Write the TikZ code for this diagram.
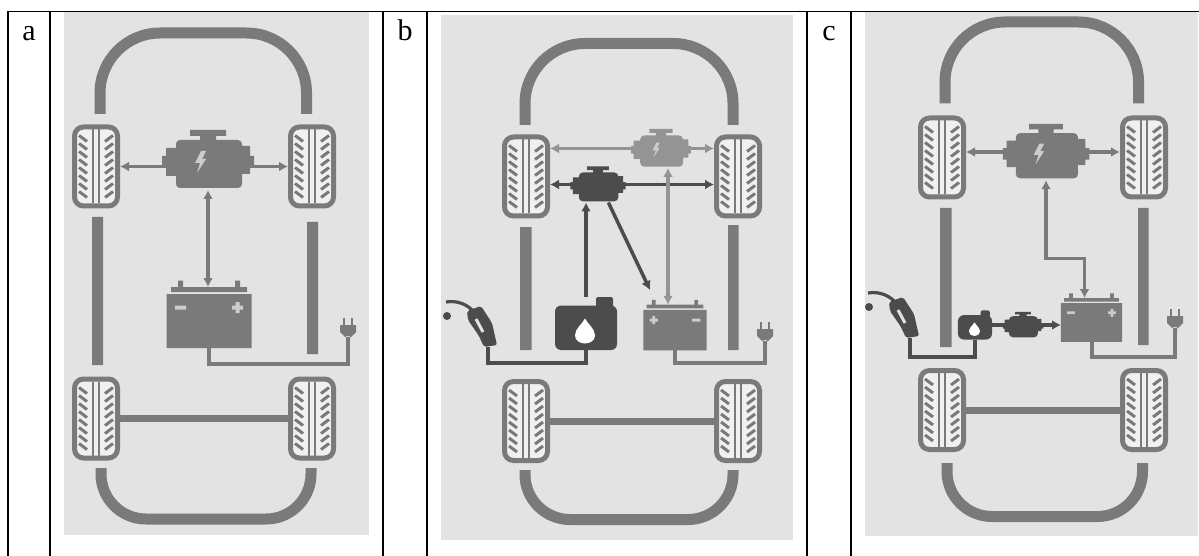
\documentclass[tikz,border=0pt]{standalone}
\usepackage{fontspec}
\setmainfont{Liberation Serif}
\usetikzlibrary{arrows.meta}

\definecolor{panelbg}{gray}{0.89}
\definecolor{tyrein}{gray}{0.94}
\definecolor{partgray}{gray}{0.48}
\definecolor{partlight}{gray}{0.58}
\definecolor{partdark}{gray}{0.30}
\definecolor{signgray}{gray}{0.80}

\tikzset{
  rule/.style={line width=1.1pt, black},
  panel/.style={fill=panelbg},
  hull/.style={line width=11pt, partgray},
  axle/.style={line width=7pt, partgray},
  flow/.style={line width=3.5pt, partgray},
  wire/.style={line width=4pt, partgray},
  hose/.style={line width=4pt, partdark},
  tag/.style={anchor=base, font=\fontsize{30}{36}\selectfont},
  spot/.style 2 args={inner sep=0pt, outer sep=0pt, minimum width=#1, minimum height=#2},
  tyre/.pic={
    \draw[line width=5pt, partgray, fill=tyrein, rounded corners=9pt] (-21.5,-39.5) rectangle (21.5,39.5);
    \foreach \s in {-1,1} {
      \draw[line width=2.8pt, partgray] (3*\s,-37) -- (3*\s,37);
      \foreach \ty in {-28,-20,...,28}
        \draw[line width=3pt, partgray] (17*\s,\ty-3) -- (9*\s,\ty+3);
    }
  },
  engine/.pic={
    \fill[#1] (-18,-30) rectangle (18,-24) (-8,-25) rectangle (8,-19)
      (-42,-12) rectangle (-31,16) (-46,-4) rectangle (-41,8)
      (33,-14) rectangle (42,14) (41,-4) rectangle (46,8);
    \fill[#1, rounded corners=4pt] (-32,-20) rectangle (34,28);
  },
  bolt/.pic={
    \fill[#1] (-7,-9) -- (-2,-9) -- (-6,-1) -- (-2,-1) -- (-11,13) -- (-8,3) -- (-13,3) -- cycle;
  },
  battery/.pic={
    \fill[#1] (-38,-30.5) rectangle (38,-25.5) (-31,-37) rectangle (-26,-30)
      (26,-37) rectangle (31,-30) (-42.5,-23.5) rectangle (42.5,30.5);
    \fill[signgray] (-34,-12) rectangle (-23,-8) (23,-12) rectangle (34,-8)
      (26.5,-15.5) rectangle (30.5,-4.5);
  },
  tank/.pic={
    \fill[#1, rounded corners=6pt] (-31,-18) rectangle (31,26.5);
    \fill[#1, rounded corners=2pt] (10,-26.5) rectangle (27,-14);
    \fill[white] (-1,-5) .. controls (2,1) and (9,5) .. (9,12)
      .. controls (9,17) and (4,20) .. (-1,20) .. controls (-6,20) and (-11,17) .. (-11,12)
      .. controls (-11,5) and (-4,1) .. cycle;
  },
  nozzle/.pic={
    \draw[#1, line width=3.2pt] (-42,-45) .. controls (-30,-47) and (-20,-42) .. (-14,-35);
    \fill[#1, rounded corners=2pt] (-21,-36) -- (-7,-41) -- (4,-24) -- (9,-2) -- (-4,0) -- (-9,-11) -- (-20,-27) -- cycle;
    \draw[panelbg, line width=3pt] (-12,-28) -- (-5,-15);
    \fill[#1] (-41,-31) circle[radius=4];
  },
  plug/.pic={
    \draw[#1, line width=2.5pt] (-4,-23) -- (-4,-15) (4,-23) -- (4,-15);
    \fill[#1] (-8,-16) -- (8,-16) -- (8,-9) -- (3,-4) -- (-3,-4) -- (-8,-9) -- cycle (-2,-5) rectangle (2,0);
  }
}

\begin{document}
\begin{tikzpicture}[x=1pt, y=-1pt, >={Latex[length=9pt,width=10pt]}]
\useasboundingbox (0,0) rectangle (1199,556);
\fill[panel] (64,12) rectangle (369,535);
\fill[panel] (441,15) rectangle (793,540);
\fill[panel] (865,12) rectangle (1198,536);
\draw[rule] (8,556) -- (8,11.5) -- (1199,11.5);
\foreach \x in {50,383,427,807,851}
  \draw[rule] (\x,11.5) -- (\x,556);
\node[tag] (labA) at (29,41) {a};
\node[tag] (labB) at (405,41) {b};
\node[tag] (labC) at (829,41) {c};

\draw[hull, rounded corners=60pt] (100,114) -- (100,33) -- (306.5,33) -- (306.5,114);
\draw[hull, rounded corners=45pt] (101,468) -- (101,519) -- (311,519) -- (311,468);
\fill[partgray] (92,217) rectangle (103,365) (307,222) rectangle (318,354);
\foreach \n/\x/\y in {aTL/96/166.5, aTR/312/166.5, aBL/96/418.5, aBR/312/418.5}
  \node[spot={48pt}{84pt}] (\n) at (\x,\y) {};
\node[spot={92pt}{60pt}] (aEng) at (208,160) {};
\node[spot={85pt}{61pt}] (aBat) at (209,317.5) {};
\coordinate (aPlug) at (348,341);
\draw[axle] (aBL) -- (aBR);
\draw[flow, <->] (aTL) -- (aTR);
\draw[flow, <->] (aEng.south) -- (aEng.south |- aBat.north);
\draw[wire] (aBat.south) -- ++(0,16) -| (aPlug);
\foreach \n in {aTL,aTR,aBL,aBR} \pic at (\n) {tyre};
\pic at (aEng) {engine=partgray};
\pic at (aEng) {bolt=signgray};
\pic at (aBat) {battery=partgray};
\pic at (aPlug) {plug=partgray};

\draw[hull, rounded corners=60pt] (525,125) -- (525,43.5) -- (733,43.5) -- (733,125);
\draw[hull, rounded corners=45pt] (525,470) -- (525,519.5) -- (733,519.5) -- (733,470);
\fill[partgray] (520,227) rectangle (531.5,350) (728,225) rectangle (738.5,350);
\foreach \n/\x/\y in {bTL/526/176.5, bTR/738/176.5, bBL/526/421, bBR/738/421}
  \node[spot={48pt}{84pt}] (\n) at (\x,\y) {};
\node[spot={60pt}{39pt}] (bMot) at (661,148.5) {};
\node[spot={55pt}{36pt}] (bEng) at (598,184.5) {};
\node[spot={63.5pt}{45.5pt}] (bBat) at (675,327.5) {};
\node[spot={62pt}{53pt}] (bTank) at (586,323.5) {};
\coordinate (bNoz) at (488,347);
\coordinate (bPlug) at (765,345);
\coordinate (bHit) at (650,290);
\coordinate (bLeg) at ([xshift=7pt]bMot.south);
\draw[axle] (bBL) -- (bBR);
\draw[flow, partlight, <->] (bTL.east |- bMot) -- (bTR.west |- bMot);
\draw[flow, partdark, <->] (bTL.east |- bEng) -- (bTR.west |- bEng);
\draw[flow, partlight, <->] (bLeg) -- (bLeg |- bBat.north);
\draw[flow, partdark, ->] (bTank.north) -- (bTank.north |- bEng.south);
\draw[flow, partdark, ->] (bEng.-60) -- (bHit);
\draw[hose] (bNoz) -- ++(0,16) -| (bTank.south);
\draw[wire] (bBat.south) -- ++(0,13) -| (bPlug);
\foreach \n in {bTL,bTR,bBL,bBR} \pic at (\n) {tyre};
\pic[scale=.65] at (bMot) {engine=partlight};
\pic[scale=.65] at (bMot) {bolt=signgray};
\pic[scale=.6] at (bEng) {engine=partdark};
\pic[xscale=-.746, yscale=.746] at (bBat) {battery=partgray};
\pic at (bTank) {tank=partdark};
\pic at (bNoz) {nozzle=partdark};
\pic at (bPlug) {plug=partgray};

\draw[hull, rounded corners=60pt] (945,103.5) -- (945,22) -- (1138.5,22) -- (1138.5,103.5);
\draw[hull, rounded corners=45pt] (947,463) -- (947,516.5) -- (1142.5,516.5) -- (1142.5,463);
\fill[partgray] (940,208) rectangle (951.5,347) (1138,208) rectangle (1148.5,345);
\foreach \n/\x/\y in {cTL/942/157.5, cTR/1144/157.5, cBL/942/410, cBR/1144/410}
  \node[spot={48pt}{84pt}] (\n) at (\x,\y) {};
\node[spot={86.5pt}{56.5pt}] (cEng) at (1046,152) {};
\node[spot={61pt}{44pt}] (cBat) at (1091.5,320) {};
\node[spot={34pt}{29pt}] (cTank) at (975,325) {};
\node[spot={40.5pt}{26.5pt}] (cGen) at (1023,325) {};
\coordinate (cNoz) at (910,338);
\coordinate (cPlug) at (1175,332);
\draw[axle] (cBL) -- (cBR);
\draw[flow, <->] (cTL.east |- cEng) -- (cTR.west |- cEng);
\draw[flow, <->] (cEng.south) -- ++(0,78) -| ([xshift=-7pt]cBat.north);
\draw[flow, partdark] (cTank) -- (cGen);
\draw[flow, partdark, ->] (cGen.east) -- (cGen.east -| cBat.west);
\draw[hose] (cNoz) -- ++(0,19) -| (cTank.south);
\draw[wire] (cBat.south) -- ++(0,15) -| (cPlug);
\foreach \n in {cTL,cTR,cBL,cBR} \pic at (\n) {tyre};
\pic[scale=.94] at (cEng) {engine=partgray};
\pic[scale=.94] at (cEng) {bolt=signgray};
\pic[scale=.72] at (cBat) {battery=partgray};
\pic[scale=.55] at (cTank) {tank=partdark};
\pic[scale=.44] at (cGen) {engine=partdark};
\pic at (cNoz) {nozzle=partdark};
\pic at (cPlug) {plug=partgray};
\end{tikzpicture}
\end{document}
